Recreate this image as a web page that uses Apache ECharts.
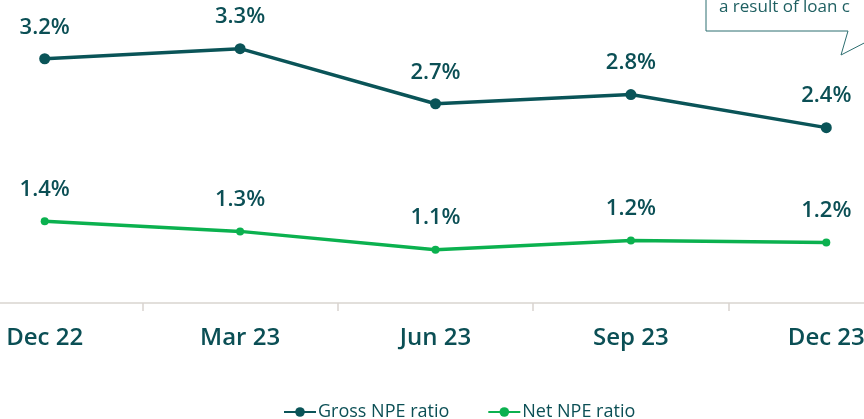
<!DOCTYPE html>
<html>
<head>
<meta charset="utf-8">
<script src="https://cdn.jsdelivr.net/npm/echarts@6/dist/echarts.min.js"></script>
<style>
  html, body { margin: 0; padding: 0; background: #fff; overflow: hidden; }
  #wrap { position: relative; width: 864px; height: 419px; overflow: hidden; }
  /* the plot runs past both edges of the picture, so the canvas is wider and shifted left */
  #chart { position: absolute; left: -53px; top: 0; width: 977px; height: 419px; }
</style>
</head>
<body>
<div id="wrap"><div id="chart"></div></div>
<script>
// quarters on the x axis
const quarters = ['Dec 22', 'Mar 23', 'Jun 23', 'Sep 23', 'Dec 23'];
// ratios in %
const grossNpe = [3.16, 3.27, 2.67, 2.77, 2.41];
const netNpe = [1.39, 1.28, 1.08, 1.18, 1.16];

const shift = 53;
const textColor = '#0b4f55';
const labelFont = { fontFamily: 'Open Sans', fontSize: 22, fontWeight: 600, color: textColor, lineHeight: 26 };

let myChart = echarts.init(document.getElementById('chart'));
let option = {
  animation: false,
  grid: { left: 0, right: 0, top: 0, bottom: 116 },
  legend: {
    left: 278 + shift,
    top: 398,
    itemWidth: 32,
    itemHeight: 12,
    itemGap: 38,
    textStyle: { fontFamily: 'Open Sans', fontSize: 18, color: textColor, padding: [0, 0, 0, -3] },
    data: ['Gross NPE ratio', 'Net NPE ratio']
  },
  xAxis: {
    type: 'category',
    data: quarters,
    boundaryGap: true,
    axisLine: { lineStyle: { color: '#d9d4cf', width: 1.5 } },
    axisTick: { show: true, length: 8, lineStyle: { color: '#d9d4cf', width: 1.5 } },
    axisLabel: { margin: 23, fontFamily: 'Open Sans', fontSize: 24, fontWeight: 600, color: textColor, interval: 0 }
  },
  yAxis: {
    type: 'value',
    min: 0.5,
    max: 3.8,
    show: false,
    splitLine: { show: false }
  },
  graphic: [
    {
      type: 'polyline',
      shape: { points: [[706 + shift, -2], [706 + shift, 31], [848 + shift, 31], [841 + shift, 55], [870 + shift, 40]] },
      style: { fill: null, stroke: '#2d6e70', lineWidth: 1 }
    },
    {
      type: 'text',
      left: 719 + shift,
      top: -1,
      style: { text: 'a result of loan c', fontFamily: 'Open Sans', fontSize: 17, fill: '#1f6062' }
    }
  ],
  series: [
    {
      name: 'Gross NPE ratio',
      type: 'line',
      data: grossNpe,
      symbol: 'circle',
      symbolSize: 11,
      lineStyle: { width: 3.5, color: '#0a5458' },
      itemStyle: { color: '#0a5458' },
      label: {
        show: true,
        position: 'top',
        distance: 13,
        formatter: p => p.value.toFixed(1) + '%',
        ...labelFont
      }
    },
    {
      name: 'Net NPE ratio',
      type: 'line',
      data: netNpe,
      symbol: 'circle',
      symbolSize: 8,
      lineStyle: { width: 3.5, color: '#0bb14f' },
      itemStyle: { color: '#0bb14f' },
      label: {
        show: true,
        position: 'top',
        distance: 15,
        formatter: p => p.value.toFixed(1) + '%',
        ...labelFont
      }
    }
  ]
};
myChart.setOption(option);
window.onresize = myChart.resize;
</script>
</body>
</html>
